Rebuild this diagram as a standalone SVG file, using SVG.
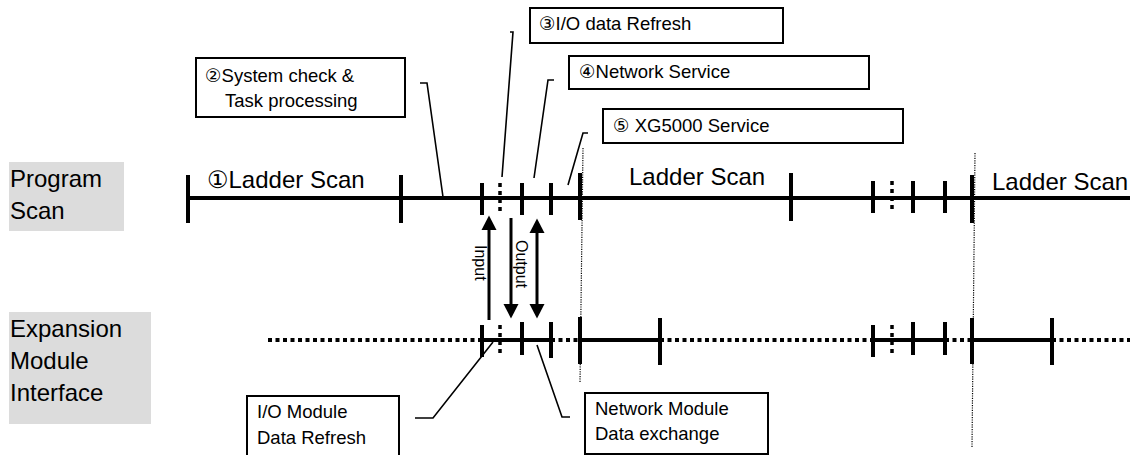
<svg xmlns="http://www.w3.org/2000/svg" width="1130" height="455" viewBox="0 0 1130 455">
<style>
  .lbl { font-family: "Liberation Sans", Arial, "DejaVu Sans", sans-serif; fill: #000; }
  .big { font-size: 24px; }
  .scan { font-size: 24px; }
  .sm { font-size: 18.5px; }
  .io { font-size: 16px; }
  .gray { fill: #dcdcdc; stroke: none; }
  .box { fill: #fff; stroke: #000; stroke-width: 2; }
  .axis { stroke: #000; stroke-width: 4; fill: none; }
  .dotted { stroke: #000; stroke-width: 4; stroke-dasharray: 4 3.5; fill: none; }
  .tick { stroke: #000; stroke-width: 4; }
  .dtick { stroke: #000; stroke-width: 3.5; stroke-dasharray: 4 4; }
  .lead { stroke: #000; stroke-width: 1.6; fill: none; }
  .vdot { stroke: #000; stroke-width: 1.2; stroke-dasharray: 1.2 1.2; fill: none; }
  .arr { stroke: #000; stroke-width: 3; fill: none; }
</style>
<defs>
  <marker id="ah" markerUnits="userSpaceOnUse" markerWidth="15" markerHeight="16" refX="0" refY="7.5" orient="auto-start-reverse" viewBox="0 0 15 15">
    <path d="M0,0 L14.5,7.5 L0,15 Z" fill="#000"/>
  </marker>
</defs>

<g id="label-program-scan">
  <rect class="gray" x="9" y="162" width="115" height="69"/>
  <text class="lbl big" x="10" y="187">Program</text>
  <text class="lbl big" x="10" y="219">Scan</text>
</g>
<g id="label-expansion">
  <rect class="gray" x="9" y="312" width="142" height="112"/>
  <text class="lbl big" x="10" y="337">Expansion</text>
  <text class="lbl big" x="10" y="369">Module</text>
  <text class="lbl big" x="10" y="401">Interface</text>
</g>

<g id="program-scan-timeline">
  <line class="axis" x1="188" y1="198" x2="1130" y2="198"/>
  <line class="tick" x1="188" y1="175" x2="188" y2="223"/>
  <line class="tick" x1="401" y1="175" x2="401" y2="223"/>
  <line class="tick" x1="482" y1="183" x2="482" y2="215"/>
  <line class="dtick" x1="500" y1="183" x2="500" y2="215"/>
  <line class="tick" x1="522" y1="183" x2="522" y2="215"/>
  <line class="tick" x1="551" y1="183" x2="551" y2="215"/>
  <line class="tick" x1="580" y1="173" x2="580" y2="220"/>
  <line class="tick" x1="791" y1="173" x2="791" y2="221"/>
  <line class="tick" x1="873" y1="181" x2="873" y2="213"/>
  <line class="dtick" x1="892" y1="181" x2="892" y2="213"/>
  <line class="tick" x1="913" y1="181" x2="913" y2="213"/>
  <line class="tick" x1="945" y1="181" x2="945" y2="213"/>
  <line class="tick" x1="972" y1="175" x2="972" y2="223"/>
  <text class="lbl scan" x="207" y="188">①Ladder Scan</text>
  <text class="lbl scan" x="629" y="185">Ladder Scan</text>
  <text class="lbl scan" x="992" y="190">Ladder Scan</text>
</g>

<g id="expansion-timeline">
  <line class="dotted" x1="268" y1="340" x2="482" y2="340"/>
  <line class="axis" x1="482" y1="340" x2="551" y2="340"/>
  <line class="dotted" x1="551" y1="340" x2="580" y2="340"/>
  <line class="axis" x1="580" y1="340" x2="660" y2="340"/>
  <line class="dotted" x1="660" y1="340" x2="873" y2="340"/>
  <line class="axis" x1="873" y1="340" x2="945" y2="340"/>
  <line class="dotted" x1="945" y1="340" x2="972" y2="340"/>
  <line class="axis" x1="972" y1="340" x2="1052" y2="340"/>
  <line class="dotted" x1="1052" y1="340" x2="1130" y2="340"/>
  <line class="tick" x1="482" y1="325" x2="482" y2="357"/>
  <line class="dtick" x1="500" y1="325" x2="500" y2="357"/>
  <line class="tick" x1="522" y1="322" x2="522" y2="355"/>
  <line class="tick" x1="551" y1="322" x2="551" y2="358"/>
  <line class="tick" x1="580" y1="317" x2="580" y2="364"/>
  <line class="tick" x1="660" y1="318" x2="660" y2="365"/>
  <line class="tick" x1="873" y1="325" x2="873" y2="357"/>
  <line class="dtick" x1="892" y1="325" x2="892" y2="357"/>
  <line class="tick" x1="913" y1="322" x2="913" y2="355"/>
  <line class="tick" x1="945" y1="322" x2="945" y2="355"/>
  <line class="tick" x1="972" y1="318" x2="972" y2="364"/>
  <line class="tick" x1="1052" y1="318" x2="1052" y2="365"/>
</g>

<g id="scan-boundaries">
  <line class="vdot" x1="583" y1="148" x2="580" y2="383"/>
  <line class="vdot" x1="975" y1="153" x2="972" y2="447"/>
</g>

<g id="callout-2">
  <rect class="box" x="196" y="58" width="209" height="59"/>
  <text class="lbl sm" x="205" y="82">②System check &amp;</text>
  <text class="lbl sm" x="225" y="107">Task processing</text>
</g>
<g id="callout-3">
  <rect class="box" x="530" y="8" width="253" height="35"/>
  <text class="lbl sm" x="539" y="30">③I/O data Refresh</text>
</g>
<g id="callout-4">
  <rect class="box" x="569" y="56" width="300" height="33"/>
  <text class="lbl sm" x="579" y="78">④Network Service</text>
</g>
<g id="callout-5">
  <rect class="box" x="603" y="109" width="300" height="34"/>
  <text class="lbl sm" x="613" y="132">⑤ XG5000 Service</text>
</g>
<g id="callout-io-module">
  <rect class="box" x="247" y="396" width="152" height="62"/>
  <text class="lbl sm" x="257" y="418">I/O Module</text>
  <text class="lbl sm" x="257" y="444">Data Refresh</text>
</g>
<g id="callout-network-module">
  <rect class="box" x="585" y="393" width="183" height="61"/>
  <text class="lbl sm" x="595" y="415">Network Module</text>
  <text class="lbl sm" x="595" y="440">Data exchange</text>
</g>

<g id="connectors">
  <polyline class="lead" points="420,83 427,83 443,197"/>
  <polyline class="lead" points="510,32 513,32 502,177"/>
  <polyline class="lead" points="554,80 548,80 534,178"/>
  <polyline class="lead" points="588,133 583,133 568,185"/>
  <polyline class="lead" points="415,418 433,418 493,342"/>
  <polyline class="lead" points="570,417 562,417 537,345"/>
  <line class="arr" x1="489" y1="320" x2="489" y2="230" marker-end="url(#ah)"/>
  <line class="arr" x1="511" y1="218" x2="511" y2="304" marker-end="url(#ah)"/>
  <line class="arr" x1="537" y1="233" x2="537" y2="304" marker-start="url(#ah)" marker-end="url(#ah)"/>
  <text class="lbl io" transform="translate(475,245) rotate(90)">Input</text>
  <text class="lbl io" transform="translate(516,240) rotate(90)">Output</text>
</g>
</svg>
